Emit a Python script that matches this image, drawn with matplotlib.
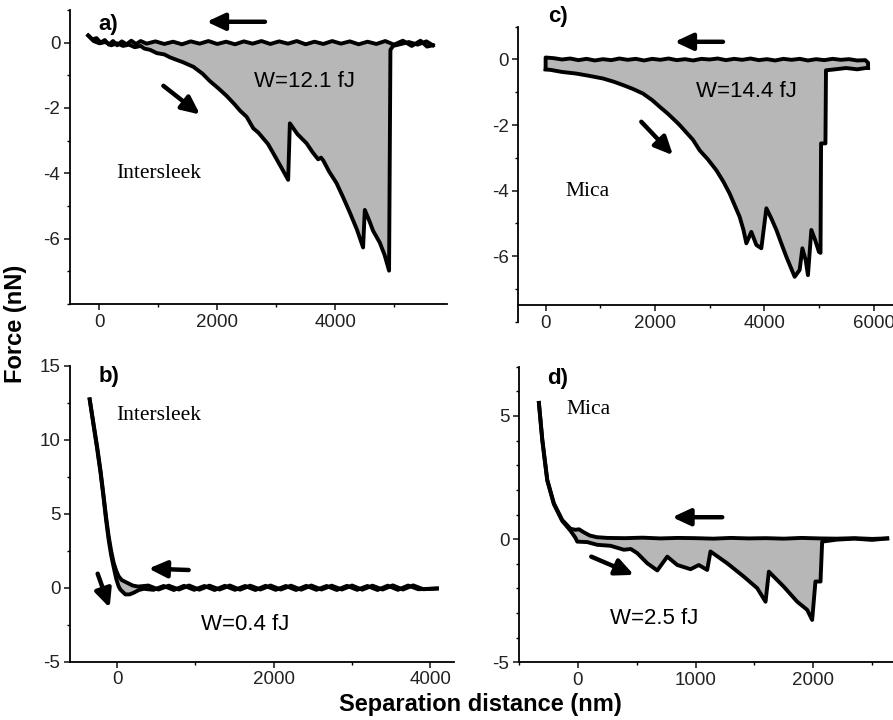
import matplotlib
matplotlib.use("Agg")
import matplotlib.pyplot as plt
import numpy as np
from matplotlib.ticker import MultipleLocator

plt.rcParams['font.family'] = ['Liberation Sans', 'DejaVu Sans']
plt.rcParams['axes.unicode_minus'] = False

GREY = '#b7b7b7'

# ---- panel a: Intersleek, retraction with adhesion ----
a_app_x = [-190, -120, -50, 20, 90, 160, 230, 300, 380, 460, 540, 620, 700, 800, 950,
           1100, 1250, 1400, 1550, 1700, 1850, 2000, 2150, 2300, 2450, 2600, 2750, 2900,
           3050, 3200, 3350, 3500, 3650, 3800, 3950, 4100, 4250, 4400, 4550, 4700, 4850,
           5000, 5150, 5300, 5450, 5560, 5660]
a_app_y = [0.22, 0.10, 0.14, 0.00, 0.08, -0.06, 0.05, -0.08, 0.04, -0.05, 0.06, -0.04,
           0.05, -0.03, 0.04, -0.04, 0.03, -0.05, 0.04, -0.03, 0.05, -0.04, 0.03, -0.05,
           0.04, -0.03, 0.05, -0.04, 0.04, -0.03, 0.05, -0.05, 0.03, -0.04, 0.05, -0.03,
           0.04, -0.05, 0.03, -0.04, 0.05, -0.06, 0.06, -0.10, 0.06, -0.12, -0.08]
a_ret_x = [-190, -100, 0, 100, 200, 300, 400, 500, 600, 700, 760, 860, 973, 1100, 1198,
           1300, 1420, 1595, 1750, 1876, 2020, 2159, 2300, 2385, 2498, 2610, 2700, 2780,
           2860, 2949, 3080, 3203, 3232, 3360, 3515, 3620, 3712, 3760, 3797, 3900, 4024,
           4140, 4250, 4370, 4475, 4504, 4580, 4645, 4758, 4840, 4916, 4939, 4984, 5100,
           5250, 5400, 5550, 5660]
a_ret_y = [0.22, 0.05, -0.02, 0.02, -0.08, -0.02, -0.10, -0.06, -0.14, -0.10, -0.18,
           -0.22, -0.32, -0.36, -0.45, -0.52, -0.60, -0.74, -0.95, -1.18, -1.40, -1.63,
           -1.90, -2.08, -2.27, -2.62, -2.76, -2.93, -3.10, -3.38, -3.80, -4.20, -2.47,
           -2.80, -3.08, -3.36, -3.57, -3.52, -3.60, -3.95, -4.30, -4.75, -5.20, -5.72,
           -6.27, -5.12, -5.45, -5.76, -6.12, -6.50, -6.98, -0.22, -0.10, -0.05, 0.02,
           -0.06, 0.04, -0.08]

# ---- panel c: Mica, retraction with adhesion ----
c_app_x = [0, 0, 150, 300, 450, 600, 750, 900, 1050, 1200, 1350, 1500, 1650, 1800, 1950,
           2100, 2250, 2400, 2550, 2700, 2850, 3000, 3150, 3300, 3450, 3600, 3750, 3900,
           4050, 4200, 4350, 4500, 4650, 4800, 4950, 5100, 5250, 5400, 5550, 5700, 5850,
           5900, 5900]
c_app_y = [-0.30, 0.06, 0.04, 0.00, 0.03, -0.02, 0.02, -0.03, 0.01, -0.02, 0.03, -0.01,
           0.02, -0.03, 0.02, -0.01, 0.03, -0.02, 0.01, -0.03, 0.02, 0.00, 0.03, -0.02,
           0.02, -0.01, 0.03, -0.02, 0.01, -0.03, 0.02, -0.01, 0.02, -0.03, 0.01, -0.02,
           0.02, -0.01, 0.01, -0.03, -0.02, -0.10, -0.26]
c_ret_x = [0, 100, 300, 561, 800, 1049, 1250, 1415, 1600, 1781, 1950, 2086, 2240, 2392,
           2452, 2696, 2818, 2970, 3124, 3250, 3367, 3460, 3550, 3620, 3673, 3764, 3856,
           3947, 4039, 4130, 4222, 4310, 4405, 4557, 4648, 4698, 4758, 4800, 4862, 4930,
           5001, 5030, 5040, 5120, 5130, 5300, 5500, 5700, 5900]
c_ret_y = [-0.30, -0.32, -0.38, -0.43, -0.50, -0.58, -0.68, -0.78, -0.90, -1.04, -1.24,
           -1.44, -1.66, -1.90, -2.00, -2.45, -2.77, -3.05, -3.38, -3.72, -4.09, -4.45,
           -4.80, -5.20, -5.61, -5.26, -5.66, -5.76, -4.54, -4.85, -5.20, -5.60, -6.02,
           -6.63, -6.42, -5.76, -6.12, -6.58, -5.20, -5.50, -5.87, -5.90, -2.56, -2.56,
           -0.33, -0.30, -0.26, -0.30, -0.25]

# ---- panel b: Intersleek, no adhesion ----
b_app_x = [-349, -300, -255, -210, -171, -140, -107, -75, -43, -10, 20, 60, 128, 200, 270,
           400, 530, 660, 790, 920, 1050, 1180, 1310, 1440, 1570, 1700, 1830, 1960, 2090,
           2220, 2350, 2480, 2610, 2740, 2870, 3000, 3130, 3260, 3390, 3520, 3650, 3780,
           3910, 4083]
b_app_y = [12.74, 11.10, 9.58, 7.90, 6.20, 4.80, 3.49, 2.50, 1.69, 1.15, 0.78, 0.52, 0.34,
           0.15, 0.08, 0.15, -0.12, 0.14, -0.12, 0.15, -0.13, 0.14, -0.12, 0.15, -0.13,
           0.14, -0.12, 0.15, -0.12, 0.14, -0.13, 0.15, -0.12, 0.14, -0.12, 0.15, -0.13,
           0.14, -0.12, 0.16, -0.12, 0.16, -0.10, -0.05]
b_ret_x = [-349, -300, -255, -210, -171, -140, -107, -75, -43, -10, 20, 42, 106, 160, 212,
           280, 340, 465, 595, 725, 855, 985, 1115, 1245, 1375, 1505, 1635, 1765, 1895,
           2025, 2155, 2285, 2415, 2545, 2675, 2805, 2935, 3065, 3195, 3325, 3455, 3585,
           3715, 3845, 4083]
b_ret_y = [12.74, 11.00, 9.45, 7.75, 6.05, 4.60, 3.25, 2.20, 1.40, 0.60, 0.10, -0.12,
           -0.45, -0.45, -0.34, -0.15, -0.07, -0.14, 0.12, -0.15, 0.13, -0.14, 0.12, -0.15,
           0.13, -0.14, 0.12, -0.15, 0.13, -0.14, 0.12, -0.15, 0.13, -0.14, 0.12, -0.15,
           0.13, -0.14, 0.12, -0.15, 0.14, -0.14, 0.15, -0.10, -0.05]

# ---- panel d: Mica, short range adhesion ----
d_app_x = [-331, -302, -260, -204, -133, -62, -20, 10, 50, 100, 160, 250, 400, 550, 700,
           850, 1000, 1150, 1300, 1450, 1600, 1750, 1900, 2050, 2200, 2350, 2500, 2629]
d_app_y = [5.53, 4.04, 2.41, 1.46, 0.78, 0.42, 0.38, 0.40, 0.28, 0.15, 0.08, 0.05, 0.04,
           0.06, 0.03, 0.05, 0.04, 0.02, 0.05, 0.03, 0.04, 0.02, 0.05, 0.03, 0.02, 0.04,
           0.01, 0.03]
d_ret_x = [-331, -302, -260, -204, -133, -62, -20, -5, 80, 165, 278, 391, 450, 505, 590,
           675, 760, 845, 958, 1028, 1099, 1127, 1269, 1410, 1524, 1595, 1623, 1750, 1864,
           1949, 1991, 2019, 2062, 2076, 2200, 2350, 2500, 2629]
d_ret_y = [5.53, 4.00, 2.38, 1.42, 0.74, 0.34, 0.05, -0.10, -0.12, -0.23, -0.27, -0.43,
           -0.40, -0.57, -0.98, -1.27, -0.71, -1.05, -1.22, -1.05, -1.25, -0.50, -0.98,
           -1.52, -1.99, -2.54, -1.32, -1.93, -2.54, -2.87, -3.28, -1.72, -1.72, -0.10,
           -0.02, 0.02, -0.03, 0.03]

fig = plt.figure(figsize=(8.93, 7.2), dpi=100)

ax_a = fig.add_axes([0.0784, 0.5778, 0.4222, 0.4083])
ax_c = fig.add_axes([0.5804, 0.5532, 0.4284, 0.4097])
ax_b = fig.add_axes([0.0784, 0.0810, 0.4299, 0.4107])
ax_d = fig.add_axes([0.5812, 0.0801, 0.4217, 0.4106])


def style(ax, xlim, ylim, xmaj, xmin, ymaj, ymin):
    ax.set_xlim(*xlim)
    ax.set_ylim(*ylim)
    for s in ['top', 'right']:
        ax.spines[s].set_visible(False)
    for s in ['left', 'bottom']:
        ax.spines[s].set_linewidth(1.3)
    ax.xaxis.set_major_locator(MultipleLocator(xmaj))
    ax.xaxis.set_minor_locator(MultipleLocator(xmin))
    ax.yaxis.set_major_locator(MultipleLocator(ymaj))
    ax.yaxis.set_minor_locator(MultipleLocator(ymin))
    ax.tick_params(which='major', direction='out', length=4, width=1.2,
                   labelsize=13.5, pad=3, colors='#222222')
    ax.tick_params(which='minor', direction='out', length=2.5, width=1.0)
    ax.patch.set_alpha(0)


def draw(ax, app_x, app_y, ret_x, ret_y):
    ax.fill(np.concatenate([ret_x, app_x[::-1]]), np.concatenate([ret_y, app_y[::-1]]),
            color=GREY, lw=0, zorder=1)
    ax.plot(app_x, app_y, color='black', lw=2.8, zorder=3, solid_joinstyle='round')
    ax.plot(ret_x, ret_y, color='black', lw=2.8, zorder=3, solid_joinstyle='round')


def arrow(ax, tail, head):
    ax.annotate('', xy=head, xytext=tail,
                arrowprops=dict(arrowstyle='-|>,head_length=0.6,head_width=0.28',
                                lw=3.2, color='black', mutation_scale=18,
                                shrinkA=0, shrinkB=0))


# a
draw(ax_a, a_app_x, a_app_y, a_ret_x, a_ret_y)
style(ax_a, (-500, 5900), (-8, 1), 2000, 1000, 2, 1)
ax_a.set_yticks([0, -2, -4, -6])
arrow(ax_a, (2809, 0.64), (1820, 0.64))
arrow(ax_a, (1085, -1.32), (1707, -2.20))
ax_a.text(3487, -1.19, 'W=12.1 fJ', fontsize=16, ha='center', va='center')
ax_a.text(1000, -4.0, 'Intersleek', fontsize=15.5, ha='center', va='center',
          family='Liberation Serif')
ax_a.text(152, 0.57, 'a)', fontsize=16, fontweight='bold', ha='center', va='center')

# c
draw(ax_c, c_app_x, c_app_y, c_ret_x, c_ret_y)
style(ax_c, (-500, 6500), (-8, 1), 2000, 1000, 2, 1)
ax_c.spines['bottom'].set_position(('data', -7.5))
ax_c.set_yticks([0, -2, -4, -6])
arrow(ax_c, (3245, 0.54), (2361, 0.54))
arrow(ax_c, (1751, -1.90), (2330, -2.92))
ax_c.text(3672, -0.99, 'W=14.4 fJ', fontsize=16, ha='center', va='center')
ax_c.text(774, -4.04, 'Mica', fontsize=15.5, ha='center', va='center',
          family='Liberation Serif')
ax_c.text(225, 1.32, 'c)', fontsize=16, fontweight='bold', ha='center', va='center',
          clip_on=False)

# b
draw(ax_b, b_app_x, b_app_y, b_ret_x, b_ret_y)
style(ax_b, (-600, 4300), (-5, 15), 2000, 1000, 5, 2.5)
arrow(ax_b, (914, 1.2), (403, 1.3))
arrow(ax_b, (-247, 0.95), (-94, -1.35))
ax_b.text(1637, -2.48, 'W=0.4 fJ', fontsize=16, ha='center', va='center')
ax_b.text(531, 11.66, 'Intersleek', fontsize=15.5, ha='center', va='center',
          family='Liberation Serif')
ax_b.text(-107, 14.3, 'b)', fontsize=16, fontweight='bold', ha='center', va='center')

# d
draw(ax_d, d_app_x, d_app_y, d_ret_x, d_ret_y)
style(ax_d, (-500, 2700), (-5, 7), 1000, 500, 5, 1)
arrow(ax_d, (1227, 0.89), (802, 0.89))
arrow(ax_d, (114, -0.71), (476, -1.45))
ax_d.text(646, -3.21, 'W=2.5 fJ', fontsize=16, ha='center', va='center')
ax_d.text(93, 5.26, 'Mica', fontsize=15.5, ha='center', va='center',
          family='Liberation Serif')
ax_d.text(-175, 6.54, 'd)', fontsize=16, fontweight='bold', ha='center', va='center')

fig.text(0.0175, 0.55, 'Force (nN)', rotation=90, fontsize=17, fontweight='bold',
         ha='center', va='center')
fig.text(0.5375, 0.021, 'Separation distance (nm)', fontsize=17, fontweight='bold',
         ha='center', va='center')

fig.savefig('out.png', dpi=100)
